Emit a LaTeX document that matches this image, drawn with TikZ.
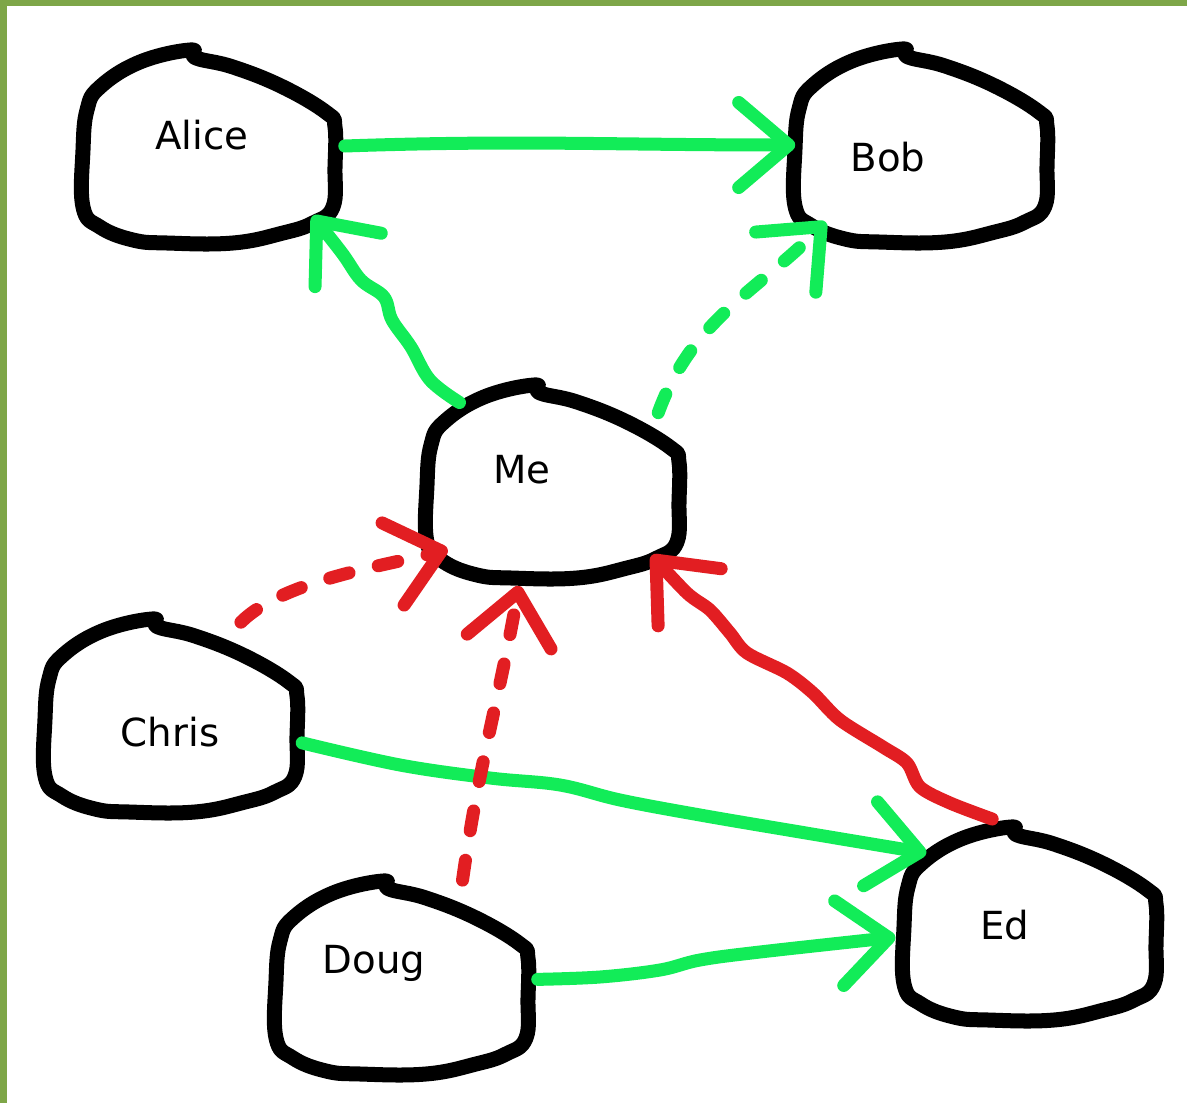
\documentclass[tikz,border=0pt]{standalone}
\usepackage{fontspec}
\setmainfont{DejaVu Sans}
\usetikzlibrary{arrows.meta,shapes.geometric}

\definecolor{framegreen}{RGB}{126,166,72}
\definecolor{linkgreen}{RGB}{18,236,88}
\definecolor{linkred}{RGB}{226,30,34}

\begin{document}
\begin{tikzpicture}[x=0.01cm, y=0.01cm,
    >={Straight Barb[length=5mm, width=8.5mm, round]},
    person/.style={ellipse, minimum width=2.7cm, minimum height=2.15cm, inner sep=0pt},
    who/.style={font=\fontsize{11}{13}\selectfont},
    link/.style={->, line width=0.13cm, line cap=round, line join=round},
    dashlink/.style={link, dash pattern=on 0.2cm off 0.3cm},
    blob/.pic={
      \draw[line width=0.15cm, line join=round]
        plot[smooth cycle, tension=0.7] coordinates {
          (-13,88) (-19,96) (-69,84) (-109,59) (-122,36) (-126,-4)
          (-126,-61) (-109,-81) (-76,-94) (-42,-97) (24,-97) (74,-87)
          (104,-77) (124,-61) (126,-21) (126,19) (118,33) (74,59) (24,79)};
    }]

\useasboundingbox (0,0) rectangle (1187,-1103);
\fill[framegreen] (0,0) rectangle (1187,-6);
\fill[framegreen] (0,0) rectangle (7,-1103);

% people
\node[person] (alice) at (209,-146) {};
\node[person] (bob)   at (921,-145) {};
\node[person] (me)    at (553,-481) {};
\node[person] (chris) at (171,-715) {};
\node[person] (doug)  at (402,-977) {};
\node[person] (ed)    at (1030,-923) {};

\pic at (alice) {blob};
\pic at (bob)   {blob};
\pic at (me)    {blob};
\pic at (chris) {blob};
\pic at (doug)  {blob};
\pic at (ed)    {blob};

\node[who] (alice-name) at (202,-135) {Alice};
\node[who] (bob-name)   at (888,-157) {Bob};
\node[who] (me-name)    at (522,-470) {Me};
\node[who] (chris-name) at (170,-732) {Chris};
\node[who] (doug-name)  at (374,-963) {Doug};
\node[who] (ed-name)    at (1005,-925) {Ed};

% green links
\draw[link, linkgreen, shorten >=-1mm] (alice.0) to[out=2, in=180] (bob.180);
\draw[link, linkgreen] plot[smooth, tension=0.6] coordinates
    {(me.140) (430,-380) (411,-347) (392,-320) (384,-297) (361,-280) (342,-253) (alice.-34)};
\draw[dashlink, linkgreen] (me.33) to[out=70, in=225] (bob.219);
\draw[link, linkgreen] plot[smooth, tension=0.6] coordinates
    {(chris.-12) (400,-765) (490,-778) (560,-785) (620,-800) (700,-815) (800,-832) (ed.146)};
\draw[link, linkgreen] plot[smooth, tension=0.6] coordinates
    {(doug.-1) (600,-977) (660,-970) (700,-960) (760,-952) (ed.186)};

% red links
\draw[dashlink, linkred] (chris.53) to[out=45, in=195, looseness=0.7] (me.213);
\draw[dashlink, linkred] (doug.58) to[out=82, in=-100] (me.252);
\draw[link, linkred] plot[smooth, tension=0.5] coordinates
    {(ed.110) (950,-803) (920,-787) (907,-763) (883,-747) (840,-720) (813,-693)
     (787,-673) (747,-653) (730,-633) (710,-610) (687,-593) (me.-37)};

\end{tikzpicture}
\end{document}
